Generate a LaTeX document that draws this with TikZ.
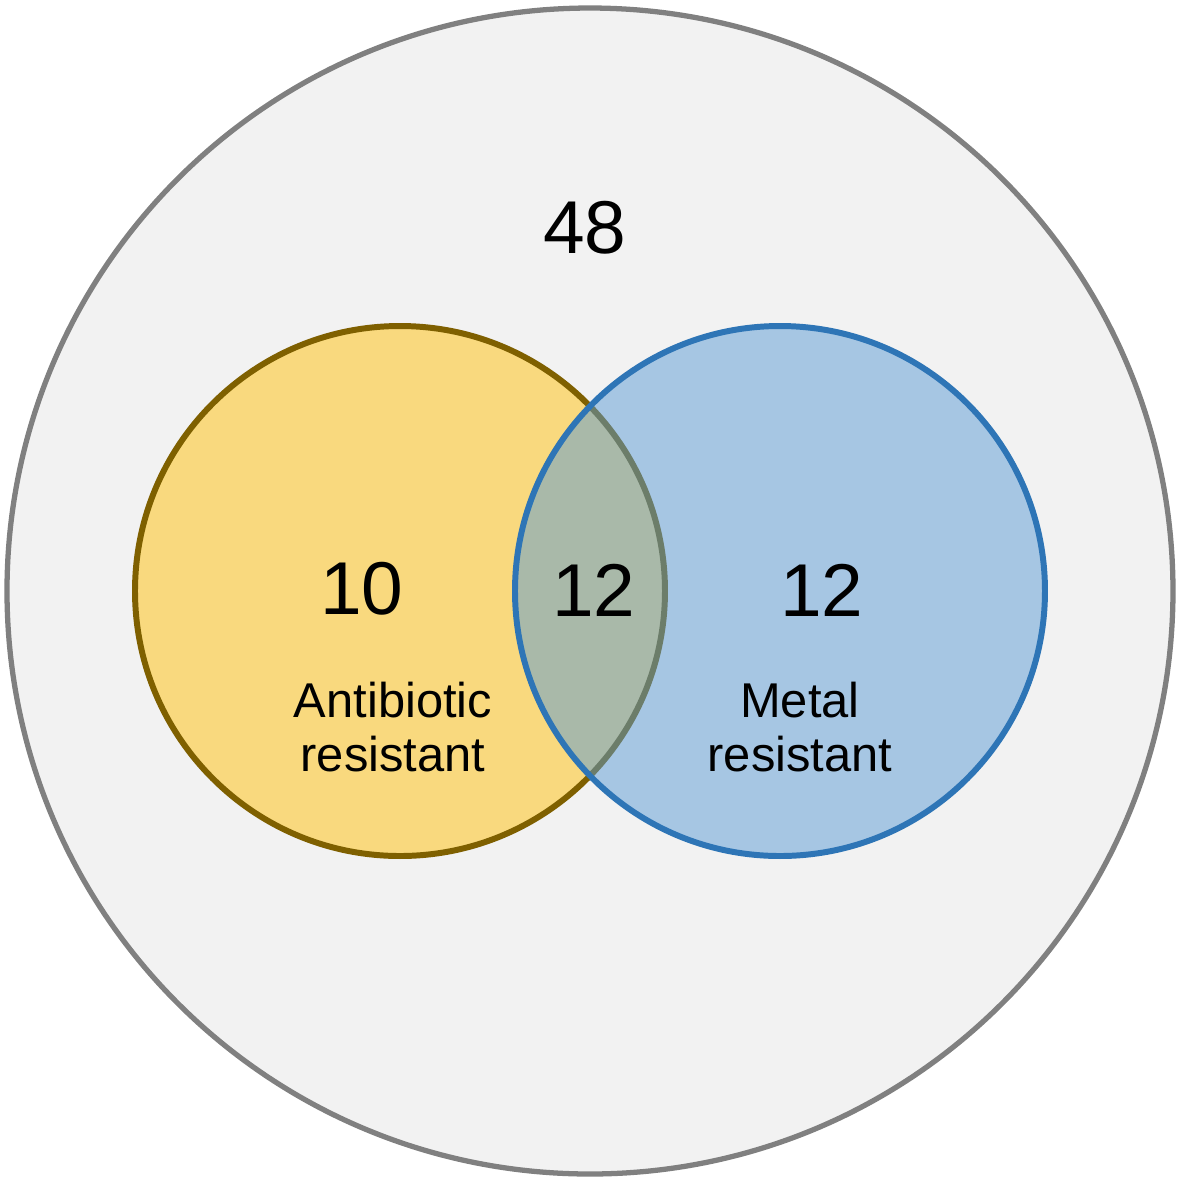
\documentclass[tikz,border=0pt]{standalone}
\usepackage{fontspec}
\setmainfont{Liberation Sans}
\definecolor{outerfill}{HTML}{F2F2F2}
\definecolor{outerline}{HTML}{808080}
\definecolor{yfill}{HTML}{F9D97E}
\definecolor{yline}{HTML}{7F6000}
\definecolor{bfill}{HTML}{5B9BD5}
\definecolor{bline}{HTML}{2E75B6}
\begin{document}
\begin{tikzpicture}[x=0.1mm,y=-0.1mm,
  setcircle/.style={circle,inner sep=0pt,outer sep=0pt},
  numtext/.style={anchor=base,font=\fontsize{21.3pt}{24pt}\selectfont,inner sep=0pt},
  labeltext/.style={anchor=base,align=center,font=\fontsize{13.9pt}{15.1pt}\selectfont,inner sep=0pt}]
\useasboundingbox (0,0) rectangle (1181,1181);
\node[setcircle,draw=outerline,fill=outerfill,line width=1.5pt,minimum size=116.6mm] (outer) at (590,591) {};
\node[setcircle,draw=yline,fill=yfill,line width=1.7pt,minimum size=53mm] (anti) at (400,591) {};
\node[setcircle,draw=bline,fill=bfill,fill opacity=0.5,draw opacity=1,line width=1.7pt,minimum size=53mm] (metal) at (780,591) {};
\node[numtext] (n48) at (585,253) {48};
\node[numtext] (n10) at (362,614) {10};
\node[numtext] (n12a) at (594,616) {12};
\node[numtext] (n12b) at (822,616) {12};
\node[labeltext] (lanti) at (393,771) {Antibiotic\\resistant};
\node[labeltext] (lmetal) at (800,771) {Metal\\resistant};
\end{tikzpicture}
\end{document}
